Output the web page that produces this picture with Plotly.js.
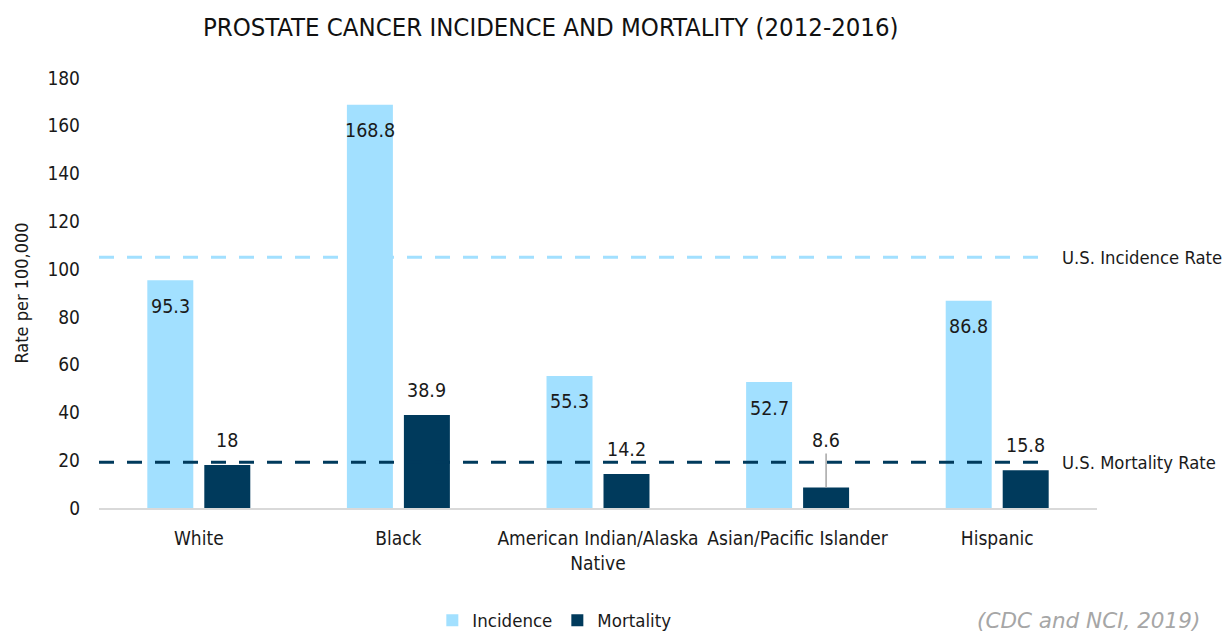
<!DOCTYPE html>
<html>
<head>
<meta charset="utf-8">
<script src="https://cdn.plot.ly/plotly-3.0.1.min.js"></script>
<style>html,body{margin:0;padding:0;background:#fff}#chart{width:1232px;height:634px}</style>
</head>
<body>
<div id="chart"></div>
<script>
const categories = ["White", "Black", "American Indian/Alaska<br>Native", "Asian/Pacific Islander", "Hispanic"];
const incidence = [95.3, 168.8, 55.3, 52.7, 86.8];
const mortality = [18, 38.9, 14.2, 8.6, 15.8];
const usIncidenceRate = 105;
const usMortalityRate = 19.2;
const yTicks = [0, 20, 40, 60, 80, 100, 120, 140, 160, 180];

const FONT = '"Liberation Sans Narrow", "DejaVu Sans Condensed", "Roboto Condensed", sans-serif';
const LIGHT = '#a2e0ff';
const DARK = '#003a5c';
const TXT = '#1a1a1a';

const traces = [
  {type: 'bar', name: 'Incidence', x: categories, y: incidence, marker: {color: LIGHT}, hoverinfo: 'x+y'},
  {type: 'bar', name: 'Mortality', x: categories, y: mortality, marker: {color: DARK}, hoverinfo: 'x+y'}
];

const annotations = [];
incidence.forEach((v, i) => {
  annotations.push({x: categories[i], y: v, xref: 'x', yref: 'y', text: String(v), showarrow: false,
    xshift: -28.5, yshift: -26, yanchor: 'middle', font: {family: FONT, size: 19.5, color: TXT}});
});
mortality.forEach((v, i) => {
  if (i === 3) {
    annotations.push({x: categories[i], y: v, xref: 'x', yref: 'y', text: String(v), showarrow: true,
      arrowhead: 0, arrowwidth: 1.5, arrowcolor: '#a6a6a6', ax: 0, ay: -47, xshift: 28.5,
      font: {family: FONT, size: 19.5, color: TXT}});
  } else {
    annotations.push({x: categories[i], y: v, xref: 'x', yref: 'y', text: String(v), showarrow: false,
      xshift: 28.5, yshift: 25, yanchor: 'middle', font: {family: FONT, size: 19.5, color: TXT}});
  }
});
annotations.push({xref: 'paper', yref: 'y', x: 0.963, y: usIncidenceRate, xanchor: 'left', yanchor: 'middle',
  text: 'U.S. Incidence Rate', showarrow: false, font: {family: FONT, size: 18.3, color: TXT}});
annotations.push({xref: 'paper', yref: 'y', x: 0.963, y: usMortalityRate, xanchor: 'left', yanchor: 'middle',
  text: 'U.S. Mortality Rate', showarrow: false, font: {family: FONT, size: 18.3, color: TXT}});
annotations.push({xref: 'paper', yref: 'paper', x: 1.105, y: -0.262, xanchor: 'right', yanchor: 'middle',
  text: '<i>(CDC and NCI, 2019)</i>', showarrow: false, font: {family: '"DejaVu Sans", sans-serif', size: 21.5, color: '#a6a6a6'}});

const shapes = [
  {type: 'line', xref: 'paper', yref: 'y', x0: 0, x1: 0.941, y0: usIncidenceRate, y1: usIncidenceRate,
    line: {color: LIGHT, width: 3, dash: '15px,13px'}},
  {type: 'line', xref: 'paper', yref: 'y', x0: 0, x1: 0.941, y0: usMortalityRate, y1: usMortalityRate,
    line: {color: DARK, width: 3, dash: '15px,13px'}}
];

const layout = {
  width: 1232, height: 634,
  margin: {l: 99, r: 135, t: 78, b: 126, autoexpand: false},
  paper_bgcolor: '#fff', plot_bgcolor: '#fff',
  font: {family: FONT, color: TXT, size: 19},
  title: {text: 'PROSTATE CANCER INCIDENCE AND MORTALITY (2012-2016)', x: 0.447, xanchor: 'center', y: 0.957, yanchor: 'middle',
    font: {family: FONT, size: 25.5, color: '#111'}},
  barmode: 'group', bargap: 0.429, bargroupgap: 0.193,
  showlegend: true,
  legend: {orientation: 'h', x: 0.334, xanchor: 'left', y: -0.262, yanchor: 'middle',
    font: {family: FONT, size: 18.5, color: TXT}, itemwidth: 30, traceorder: 'normal'},
  xaxis: {type: 'category', showgrid: false, showline: true, linecolor: '#d9d9d9', linewidth: 2,
    ticks: '', tickfont: {family: FONT, size: 19, color: TXT}, ticklabelstandoff: 12, zeroline: false, automargin: false},
  yaxis: {range: [0, 180], tickvals: yTicks, showgrid: false, zeroline: false, showline: false, ticks: '',
    ticklabelstandoff: 18, tickfont: {family: FONT, size: 19, color: TXT}, automargin: false,
    title: {text: 'Rate per 100,000', standoff: 14, font: {family: FONT, size: 18, color: TXT}}},
  annotations: annotations,
  shapes: shapes
};

Plotly.newPlot('chart', traces, layout, {displayModeBar: false, staticPlot: true});
</script>
</body>
</html>
